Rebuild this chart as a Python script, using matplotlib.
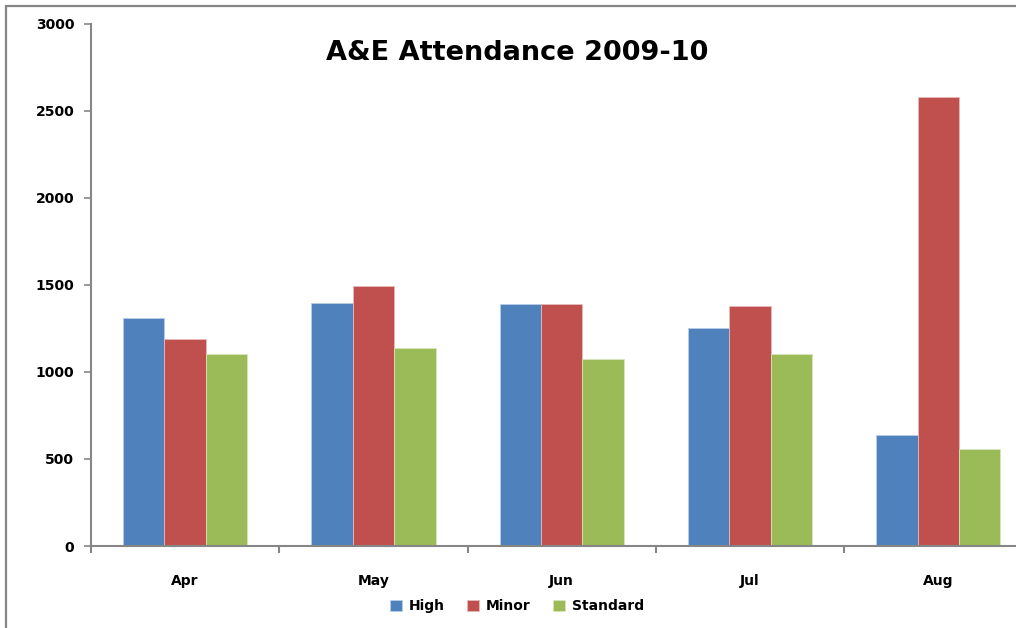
import matplotlib
matplotlib.use("Agg")
import matplotlib.pyplot as plt
import numpy as np
from matplotlib.patches import Rectangle

months = ["Apr", "May", "Jun", "Jul", "Aug"]
series_names = ["High", "Minor", "Standard"]
high = [1308, 1393, 1389, 1250, 640]
minor = [1191, 1492, 1389, 1377, 2578]
standard = [1100, 1135, 1072, 1100, 559]
y_ticks = [0, 500, 1000, 1500, 2000, 2500, 3000]

colors = ["#4F81BD", "#C0504D", "#9BBB59"]
edges = ["#B9CDE5", "#E6B9B8", "#D7E4BD"]

W, H = 1016, 628
fig = plt.figure(figsize=(W / 100, H / 100), dpi=100)
plt.rcParams['font.family'] = ['DejaVu Sans']

# outer border
fig.patches.append(Rectangle((6 / W, -0.1), 1.2, 1 - 6 / H + 0.1, transform=fig.transFigure,
                             fill=False, edgecolor="#868686", linewidth=1.6, zorder=0))

left, right = 91 / W, 1032.5 / W
bottom, top = 1 - 546 / H, 1 - 23.5 / H
ax = fig.add_axes([left, bottom, right - left, top - bottom])
ax.set_clip_on(False)

x = np.arange(len(months))
bw = 0.22
for i, (vals, c, e, name) in enumerate(zip([high, minor, standard], colors, edges, series_names)):
    ax.bar(x + (i - 1) * bw, vals, width=bw, color=c, edgecolor=e, linewidth=0.6, label=name, zorder=2)

ax.set_xlim(-0.5, len(months) - 0.5)
ax.set_ylim(0, 3000)
ax.set_yticks(y_ticks)
ax.set_yticklabels([str(t) for t in y_ticks], fontsize=10, fontweight="bold")
ax.set_xticks(np.arange(-0.5, len(months), 1.0))
ax.set_xticklabels([])
ax.set_xticks(x, minor=True)
ax.set_xticklabels(months, minor=True, fontsize=10, fontweight="bold")
ax.tick_params(axis="x", which="minor", length=0, pad=20)
ax.tick_params(axis="x", which="major", length=5, width=1.5, color="#868686", direction="out")
ax.tick_params(axis="y", length=5, width=1.2, color="#868686", direction="out", pad=7)

for s in ["top", "right"]:
    ax.spines[s].set_visible(False)
for s in ["left", "bottom"]:
    ax.spines[s].set_color("#868686")
    ax.spines[s].set_linewidth(1.5)

fig.text(517 / W, 1 - 53 / H, "A&E Attendance 2009-10", ha="center", va="center",
         fontsize=19.5, fontweight="bold")

handles, labels = ax.get_legend_handles_labels()
fig.legend(handles, labels, loc="center", bbox_to_anchor=(517 / W, 1 - 606 / H), ncol=3,
           frameon=False, handlelength=0.85, handleheight=0.85, handletextpad=0.5,
           columnspacing=1.6, prop={"size": 10, "weight": "bold"})

fig.savefig("out.png", dpi=100)
